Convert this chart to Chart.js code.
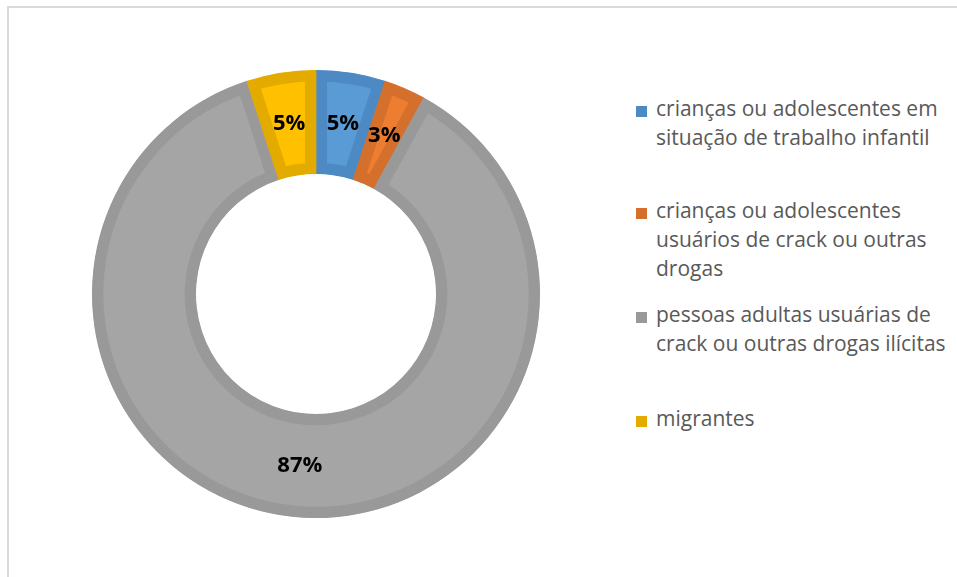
<!DOCTYPE html>
<html>
<head>
<meta charset="utf-8">
<script src="https://cdn.jsdelivr.net/npm/chart.js@4.4.0/dist/chart.umd.min.js"></script>
<style>
body { margin: 0; background: #fff; width: 957px; height: 577px; overflow: hidden; position: relative; font-family: "Open Sans", sans-serif; }
#moldura { position: absolute; left: 7px; top: 6px; width: 1000px; height: 1000px; border-left: 2px solid #dadada; border-top: 2px solid #dadada; }
#grafico { position: absolute; left: 92px; top: 70px; width: 448px; height: 448px; }
.item { position: absolute; left: 636px; font-size: 21px; line-height: 29px; color: #595959; white-space: nowrap; }
.item .cor { position: absolute; left: 0; top: 12px; width: 11px; height: 11px; }
.item .txt { margin-left: 20px; }
</style>
</head>
<body>
<div id="moldura"></div>
<div id="grafico"><canvas id="myChart" width="448" height="448"></canvas></div>
<div id="legenda"></div>

<script>
// dados
var categorias = [
    ['crianças ou adolescentes em', 'situação de trabalho infantil'],
    ['crianças ou adolescentes', 'usuários de crack ou outras', 'drogas'],
    ['pessoas adultas usuárias de', 'crack ou outras drogas ilícitas'],
    ['migrantes']
];
var valores = [5, 3, 87, 5];
var coresFundo = ['#5b9bd5', '#ed7d31', '#a5a5a5', '#ffc000'];
var coresBorda = ['#4d8ac4', '#d46f2c', '#999999', '#e3ab00'];
var topoLegenda = [94, 196, 300, 404]; // posicao vertical de cada item

function montaLegenda() {
    var leg = document.getElementById('legenda');
    for (var i = 0; i < categorias.length; i++) {
        var div = document.createElement('div');
        div.className = 'item';
        div.style.top = topoLegenda[i] + 'px';
        var quad = document.createElement('span');
        quad.className = 'cor';
        quad.style.background = coresBorda[i];
        div.appendChild(quad);
        var txt = document.createElement('div');
        txt.className = 'txt';
        txt.innerHTML = categorias[i].join('<br>');
        div.appendChild(txt);
        leg.appendChild(div);
    }
}

// rotulos de porcentagem no meio de cada fatia
var rotulos = {
    id: 'rotulos',
    afterDatasetsDraw: function (chart) {
        var ctx = chart.ctx;
        var meta = chart.getDatasetMeta(0);
        var total = valores.reduce(function (a, b) { return a + b; }, 0);
        ctx.save();
        ctx.font = 'bold 22px "Open Sans"';
        ctx.fillStyle = '#000';
        ctx.textAlign = 'center';
        ctx.textBaseline = 'middle';
        meta.data.forEach(function (arco, i) {
            var p = arco.getCenterPoint();
            ctx.fillText(Math.round(valores[i] / total * 100) + '%', p.x, p.y);
        });
        ctx.restore();
    }
};

function criaGrafico() {
    new Chart(document.getElementById('myChart'), {
        type: 'doughnut',
        data: {
            labels: categorias.map(function (c) { return c.join(' '); }),
            datasets: [{
                data: valores,
                backgroundColor: coresFundo,
                borderColor: coresBorda,
                borderWidth: 11,
                borderAlign: 'inner',
                borderJoinStyle: 'miter',
                hoverOffset: 0,
                offset: 0
            }]
        },
        options: {
            responsive: false,
            animation: false,
            cutout: 120,
            layout: { padding: 0 },
            plugins: {
                legend: { display: false },
                tooltip: { enabled: false }
            }
        },
        plugins: [rotulos]
    });
}

montaLegenda();
criaGrafico();
</script>
</body>
</html>
